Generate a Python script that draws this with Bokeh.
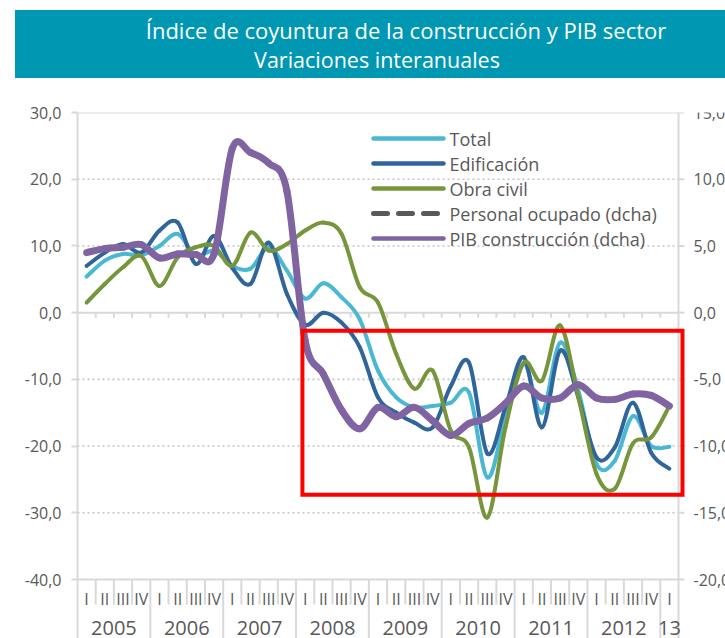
from bokeh.plotting import figure
from bokeh.models import Range1d, FixedTicker, ColumnDataSource, Div
from bokeh.layouts import column
from bokeh.embed import file_html
from bokeh.resources import INLINE
from bokeh.core.properties import value

# ---------------- data ----------------
title_text = "Índice de coyuntura de la construcción y PIB sector"
subtitle_text = "Variaciones interanuales"

years = ["2005", "2006", "2007", "2008", "2009", "2010", "2011", "2012", "13"]
quarters_per_year = [4, 4, 4, 4, 4, 4, 4, 4, 1]
quarter_names = ["I", "II", "III", "IV"]

total = [5.4, 7.8, 8.8, 8.6, 10.0, 11.8, 8.5, 9.3, 7.0, 6.6, 9.8, 6.3,
         2.1, 4.4, 2.3, -1.0, -8.7, -12.7, -14.2, -14.0, -13.5, -12.0, -24.7, -15.7,
         -7.7, -15.0, -4.5, -11.7, -22.7, -22.2, -15.5, -20.0, -20.1]
edificacion = [7.0, 9.0, 10.3, 9.0, 12.3, 13.5, 7.3, 11.5, 6.7, 4.3, 10.5, 2.8,
               -1.8, 0.0, -1.5, -5.2, -12.7, -15.0, -16.5, -17.2, -11.0, -7.5, -21.1, -14.2,
               -6.7, -17.2, -5.7, -12.7, -21.7, -20.2, -13.5, -21.0, -23.4]
obra_civil = [1.5, 4.3, 6.8, 8.5, 4.0, 8.3, 9.8, 10.0, 7.0, 12.0, 9.3, 10.3,
              12.3, 13.5, 11.8, 3.8, 1.5, -6.2, -11.4, -8.7, -17.7, -20.2, -30.7, -17.2,
              -7.5, -10.2, -1.9, -12.7, -24.2, -26.4, -19.6, -18.7, -14.0]
personal_ocupado = []  # only present in the legend
pib_construccion = [4.5, 4.8, 4.9, 5.1, 4.1, 4.4, 4.35, 4.4, 12.3, 12.0, 11.2, 9.1,
                    -2.1, -4.6, -7.3, -8.7, -7.1, -7.8, -7.1, -8.1, -9.2, -8.3, -7.9, -6.8,
                    -5.5, -6.4, -6.4, -5.4, -6.4, -6.5, -6.1, -6.2, -7.0]

legend_labels = ["Total", "Edificación", "Obra civil", "Personal ocupado (dcha)",
                 "PIB construcción (dcha)"]

left_ticks = [-40, -30, -20, -10, 0, 10, 20, 30]
right_ticks = [-20, -15, -10, -5, 0, 5, 10, 15]

# highlight box (data coordinates: quarters / left-axis units)
box_left, box_right, box_top, box_bottom = 12.35, 33.22, -2.70, -27.28

# ---------------- styles ----------------
FONT = value("Open Sans")
GRAY_TXT = "#595959"
AXIS_GRAY = "#D9D9D9"
GRID_GRAY = "#C4C4C4"
C_TOTAL = "#4BB8D3"
C_EDIF = "#2F659A"
C_OBRA = "#77963B"
C_PERS = "#595959"
C_PIB = "#8064A2"
TEAL = "#0097B3"

W, H_BANNER, H_CHART = 725, 104, 534
LEFT_BORDER, TOP_BORDER = 77, 8
n = len(total)
PX_Q = 601.0 / n                 # pixels per quarter
PX_U = 467.0 / 70.0              # pixels per left-axis unit
XMAX = (W - LEFT_BORDER) / PX_Q
YMAX = 30.0
YMIN = YMAX - (H_CHART - TOP_BORDER) / PX_U
ZERO_PX = H_BANNER + TOP_BORDER + YMAX * PX_U   # page y of the zero line

def fmt(v):
    return ("%.1f" % v).replace(".", ",")

# ---------------- banner (title) ----------------
banner_html = f"""
<div style="position:relative;width:{W}px;height:{H_BANNER}px;font-family:'Open Sans',sans-serif;">
  <div style="position:absolute;left:15px;top:10px;width:{W - 15}px;height:68px;background:{TEAL};"></div>
  <div style="position:absolute;left:406px;top:30px;transform:translate(-50%,-50%);white-space:nowrap;color:#FFFFFF;font-size:22px;line-height:1.2;">{title_text}</div>
  <div style="position:absolute;left:377px;top:60px;transform:translate(-50%,-50%);white-space:nowrap;color:#FFFFFF;font-size:21.5px;line-height:1.2;">{subtitle_text}</div>
</div>
"""
banner = Div(text=banner_html, width=W, height=H_BANNER, margin=(0, 0, 0, 0))

# ---------------- chart ----------------
p = figure(width=W, height=H_CHART, x_range=Range1d(0, XMAX), y_range=Range1d(YMIN, YMAX),
           min_border_left=LEFT_BORDER, min_border_right=0, min_border_top=TOP_BORDER,
           min_border_bottom=0, toolbar_location=None, output_backend="svg",
           x_axis_type=None, outline_line_color=None)
p.extra_y_ranges = {"right": Range1d(YMIN / 2.0, YMAX / 2.0)}
p.grid.visible = False

ax = p.yaxis[0]
ax.ticker = FixedTicker(ticks=left_ticks)
ax.major_label_overrides = {t: fmt(t) for t in left_ticks}
ax.axis_line_color = AXIS_GRAY
ax.axis_line_width = 2
ax.major_tick_line_color = AXIS_GRAY
ax.major_tick_line_width = 2
ax.major_tick_out = 6
ax.major_tick_in = 0
ax.minor_tick_line_color = None
ax.major_label_text_font = "Open Sans"
ax.major_label_text_font_size = "16px"
ax.major_label_text_color = GRAY_TXT
ax.major_label_standoff = 10

# grid lines
dotted = [t for t in left_ticks if t not in (-40, 0, 30)]
p.segment(x0=[0] * len(dotted), x1=[n] * len(dotted), y0=dotted, y1=dotted,
          line_color=GRID_GRAY, line_width=1.6, line_dash="2 3")
solid = [-40, 0, 30]
p.segment(x0=[0] * 3, x1=[n] * 3, y0=solid, y1=solid, line_color=AXIS_GRAY, line_width=2)

# right axis (drawn inside the frame, clipped at the page edge like the original)
p.segment(x0=[n], x1=[n], y0=[YMIN], y1=[YMAX], line_color=AXIS_GRAY, line_width=2)
p.segment(x0=[n] * len(right_ticks), x1=[n + 6 / PX_Q] * len(right_ticks),
          y0=right_ticks, y1=right_ticks, y_range_name="right",
          line_color=AXIS_GRAY, line_width=2)
p.text(x=[n + 15 / PX_Q] * len(right_ticks), y=right_ticks, text=[fmt(t) for t in right_ticks],
       y_range_name="right", text_font=FONT, text_font_size="16px", text_color=GRAY_TXT,
       text_align="left", text_baseline="middle")

# category axis: ticks on the zero line, separators and labels below -40
bounds = list(range(1, n))
p.segment(x0=bounds, x1=bounds, y0=[0] * len(bounds), y1=[-5 / PX_U] * len(bounds),
          line_color=AXIS_GRAY, line_width=2)
year_bounds, q_bounds, q_x, q_txt, y_x = [], [], [], [], []
start = 0
for yr, k in zip(years, quarters_per_year):
    for q in range(k):
        q_x.append(start + q + 0.5)
        q_txt.append(quarter_names[q])
        if q > 0:
            q_bounds.append(start + q)
    y_x.append(start + k / 2.0)
    start += k
    year_bounds.append(start)
year_bounds = [b for b in year_bounds if b < n]
Q_SEP_BOTTOM = -40 - 25 / PX_U
p.segment(x0=q_bounds, x1=q_bounds, y0=[-40] * len(q_bounds), y1=[Q_SEP_BOTTOM] * len(q_bounds),
          line_color=AXIS_GRAY, line_width=2)
p.segment(x0=year_bounds, x1=year_bounds, y0=[-40] * len(year_bounds),
          y1=[YMIN] * len(year_bounds), line_color=AXIS_GRAY, line_width=2)
p.text(x=q_x, y=[-40 - 19 / PX_U] * len(q_x), text=q_txt, text_font=FONT,
       text_font_size="16px", text_color=GRAY_TXT, text_align="center", text_baseline="middle")
p.text(x=y_x, y=[-40 - 48 / PX_U] * len(y_x), text=years, text_font=FONT,
       text_font_size="20px", text_color=GRAY_TXT, text_align="center", text_baseline="middle")

# smoothed series (Catmull-Rom style Bezier segments through the data points)
def bezier_source(ys):
    xs = [i + 0.5 for i in range(len(ys))]
    m = len(ys)
    d = dict(x0=[], y0=[], x1=[], y1=[], cx0=[], cy0=[], cx1=[], cy1=[])
    for i in range(m - 1):
        a, b = max(i - 1, 0), min(i + 2, m - 1)
        d["x0"].append(xs[i]); d["y0"].append(ys[i])
        d["x1"].append(xs[i + 1]); d["y1"].append(ys[i + 1])
        d["cx0"].append(xs[i] + (xs[i + 1] - xs[a]) / 6.0)
        d["cy0"].append(ys[i] + (ys[i + 1] - ys[a]) / 6.0)
        d["cx1"].append(xs[i + 1] - (xs[b] - xs[i]) / 6.0)
        d["cy1"].append(ys[i + 1] - (ys[b] - ys[i]) / 6.0)
    return ColumnDataSource(d)

def draw(ys, color, width, rng="default"):
    if len(ys) < 2:
        return
    p.bezier(x0="x0", y0="y0", x1="x1", y1="y1", cx0="cx0", cy0="cy0", cx1="cx1", cy1="cy1",
             source=bezier_source(ys), line_color=color, line_width=width, line_cap="round",
             y_range_name=rng)

draw(total, C_TOTAL, 4)
draw(edificacion, C_EDIF, 4)
draw(obra_civil, C_OBRA, 4)
draw(personal_ocupado, C_PERS, 4, "right")
draw(pib_construccion, C_PIB, 7, "right")

# highlight box
p.quad(left=[box_left], right=[box_right], top=[box_top], bottom=[box_bottom],
       fill_color=None, line_color="#FF0000", line_width=4, line_join="miter")

# legend (drawn in the plot's own coordinates)
leg_x0 = (373 - LEFT_BORDER) / PX_Q
leg_x1 = (443 - LEFT_BORDER) / PX_Q
leg_tx = (449 - LEFT_BORDER) / PX_Q
leg_y = [(ZERO_PX - (138 + 25 * i)) / PX_U for i in range(len(legend_labels))]
leg_colors = [C_TOTAL, C_EDIF, C_OBRA, C_PERS, C_PIB]
leg_dash = ["solid", "solid", "solid", "14 11", "solid"]
leg_width = [4.5, 4.5, 4.5, 5, 4.5]
for yy, c, dsh, lw in zip(leg_y, leg_colors, leg_dash, leg_width):
    p.segment(x0=[leg_x0], x1=[leg_x1], y0=[yy], y1=[yy], line_color=c, line_width=lw,
              line_dash=dsh, line_cap="round")
p.text(x=[leg_tx] * len(leg_y), y=leg_y, text=legend_labels, text_font=FONT,
       text_font_size="18px", text_color=GRAY_TXT, text_align="left", text_baseline="middle")

layout = column(banner, p)
open("out.html", "w").write(file_html(layout, INLINE))
